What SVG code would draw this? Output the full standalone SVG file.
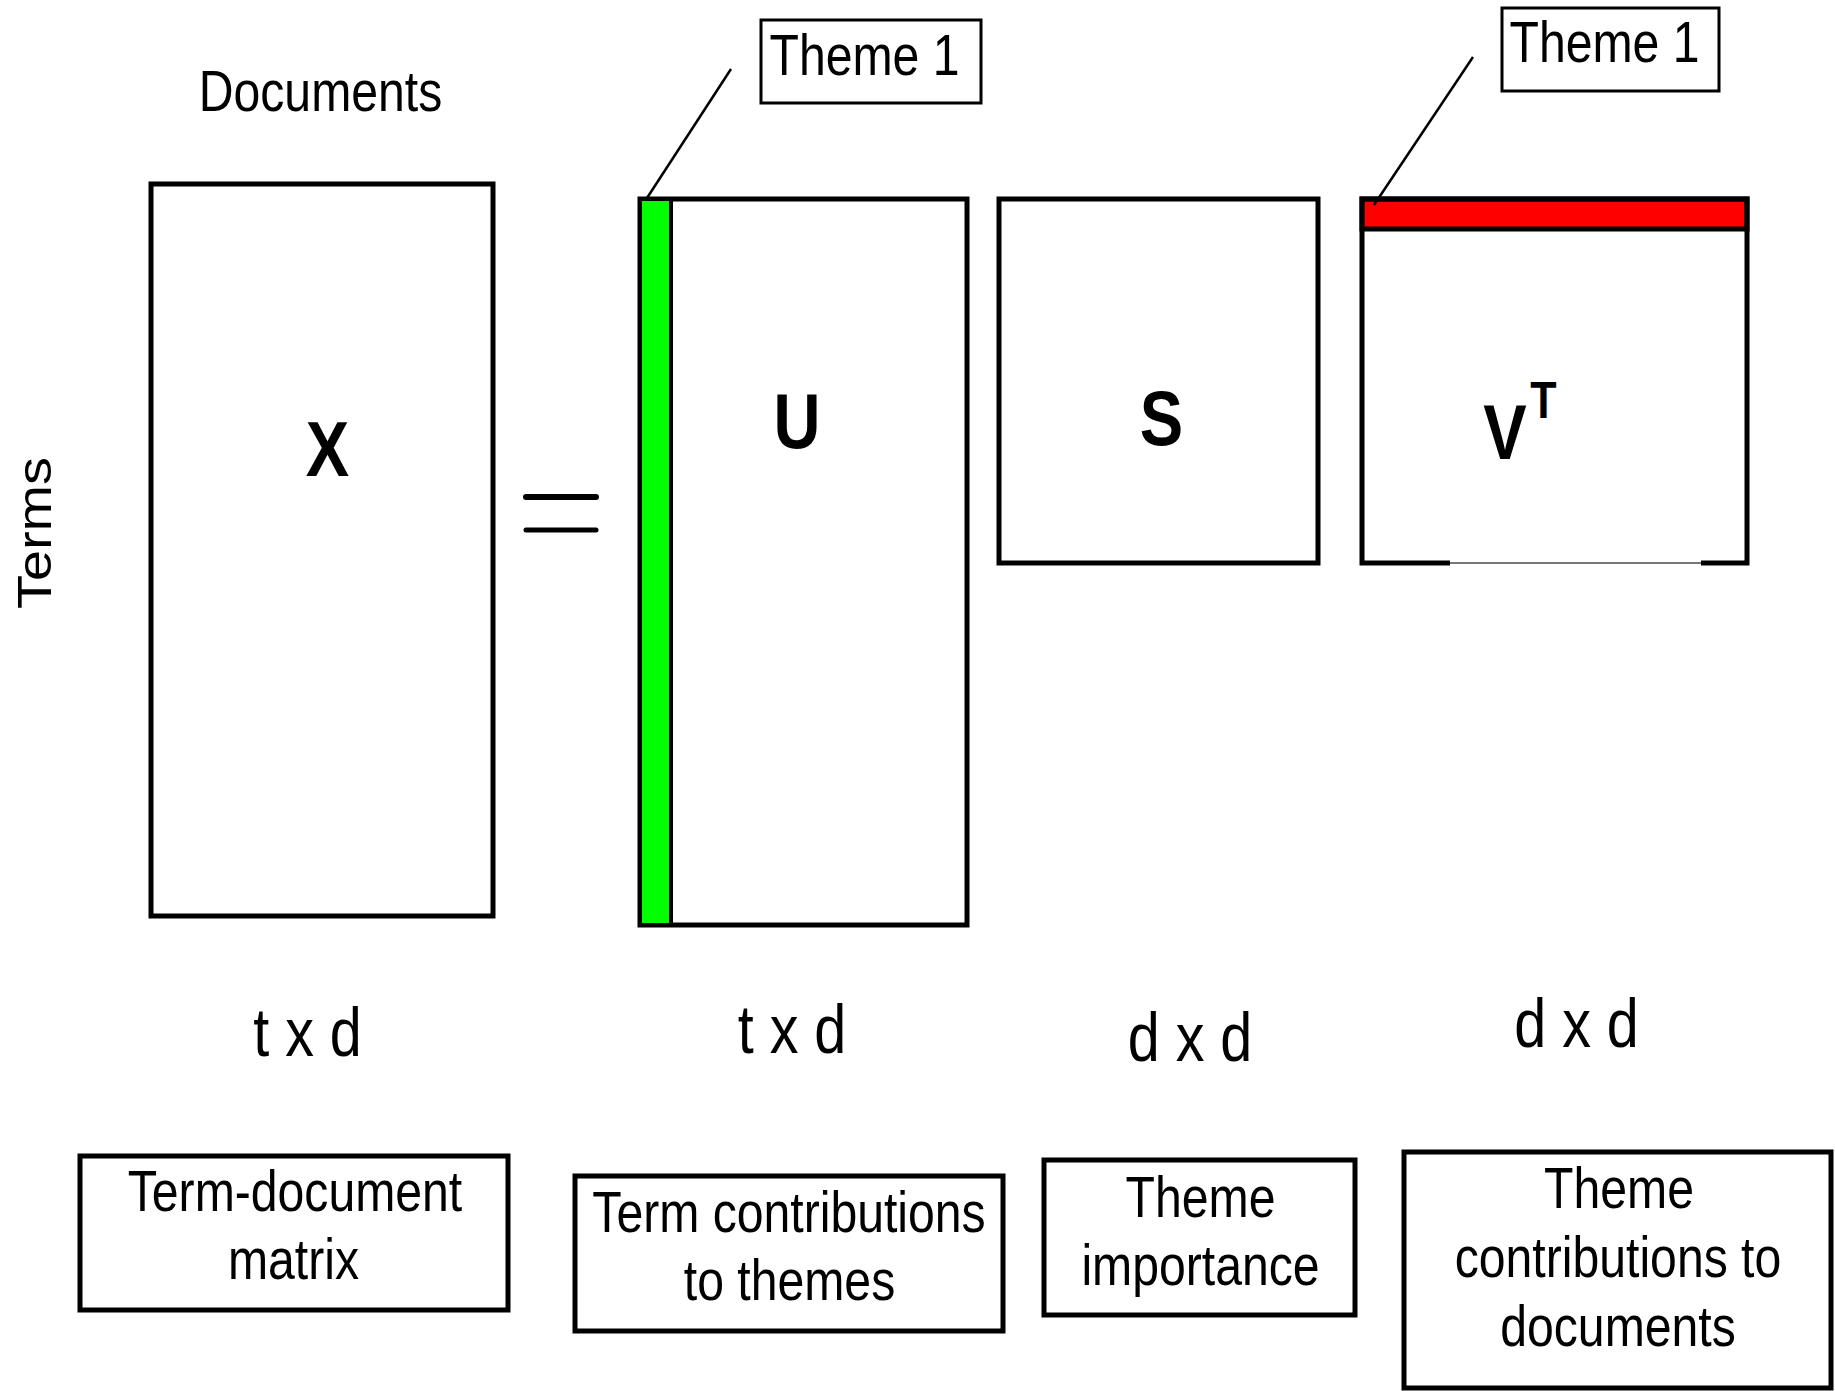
<svg xmlns="http://www.w3.org/2000/svg" width="1835" height="1391" viewBox="0 0 1835 1391">
<style>
.box{fill:#fff;stroke:#000;stroke-width:5}
.thin{fill:#fff;stroke:#000;stroke-width:3}
.t{font-family:"Liberation Sans",Arial,sans-serif;font-size:57px;fill:#000;text-anchor:middle}
.big{font-family:"Liberation Sans",Arial,sans-serif;font-size:68px;fill:#000;text-anchor:middle}
.m{font-family:"Liberation Sans",Arial,sans-serif;font-size:77px;font-weight:bold;fill:#000;text-anchor:middle}
.lead{stroke:#000;stroke-width:2.5;fill:none}
</style>
<rect width="1835" height="1391" fill="#fff"/>
<text class="t" transform="translate(320.5,111) scale(0.845,1)">Documents</text>
<text class="t" transform="translate(51,533) rotate(-90) scale(0.98,0.845)">Terms</text>
<g id="X">
<rect class="box" x="151" y="184" width="342" height="732"/>
<text class="m" transform="translate(327.5,476) scale(0.845,1)">X</text>
<text class="big" transform="translate(307.5,1056) scale(0.845,1)">t x d</text>
</g>
<g id="equals">
<line x1="526" y1="497" x2="596" y2="497" stroke="#000" stroke-width="6" stroke-linecap="round"/>
<line x1="526" y1="530" x2="596" y2="530" stroke="#000" stroke-width="5" stroke-linecap="round"/>
</g>
<g id="U">
<rect class="box" x="640" y="199" width="327" height="726"/>
<rect x="640" y="199" width="31" height="726" fill="#00ff00" stroke="#000" stroke-width="4"/>
<text class="m" transform="translate(797,448) scale(0.845,1)">U</text>
<text class="big" transform="translate(792,1053) scale(0.845,1)">t x d</text>
</g>
<g id="S">
<rect class="box" x="999" y="199" width="319" height="364"/>
<text class="m" transform="translate(1161.5,445) scale(0.845,1)">S</text>
<text class="big" transform="translate(1190,1061) scale(0.845,1)">d x d</text>
</g>
<g id="VT">
<rect x="1362" y="199" width="385" height="364" fill="#fff"/>
<rect x="1362" y="199" width="385" height="30" fill="#ff0000" stroke="#000" stroke-width="5"/>
<path d="M1450,563 H1362 V199 H1747 V563 H1701" fill="none" stroke="#000" stroke-width="5"/>
<line x1="1450" y1="563" x2="1701" y2="563" stroke="#777" stroke-width="2"/>
<text class="m" transform="translate(1505,459) scale(0.845,1)">V</text>
<text class="m" style="font-size:51px" transform="translate(1543.5,418) scale(0.845,1)">T</text>
<text class="big" transform="translate(1576.5,1047) scale(0.845,1)">d x d</text>
</g>
<g id="theme1-U">
<rect class="thin" x="761" y="20" width="220" height="83"/>
<text class="t" transform="translate(864.5,75) scale(0.845,1)">Theme 1</text>
</g>
<g id="theme1-VT">
<rect class="thin" x="1502" y="8" width="217" height="83"/>
<text class="t" transform="translate(1604.5,62) scale(0.845,1)">Theme 1</text>
</g>
<g id="connectors">
<line class="lead" x1="731" y1="69" x2="647" y2="198"/>
<line class="lead" x1="1473" y1="57" x2="1374" y2="205"/>
</g>
<g id="label-X">
<rect class="box" x="80" y="1156" width="428" height="154"/>
<text class="t" transform="translate(295,1211) scale(0.845,1)">Term-document</text>
<text class="t" transform="translate(293.5,1279) scale(0.845,1)">matrix</text>
</g>
<g id="label-U">
<rect class="box" x="575" y="1176" width="428" height="155"/>
<text class="t" transform="translate(789,1232) scale(0.845,1)">Term contributions</text>
<text class="t" transform="translate(789.5,1300) scale(0.845,1)">to themes</text>
</g>
<g id="label-S">
<rect class="box" x="1044" y="1160" width="311" height="155"/>
<text class="t" transform="translate(1200.5,1217) scale(0.845,1)">Theme</text>
<text class="t" transform="translate(1200.5,1285) scale(0.845,1)">importance</text>
</g>
<g id="label-VT">
<rect class="box" x="1404" y="1152" width="427" height="236"/>
<text class="t" transform="translate(1619,1208) scale(0.845,1)">Theme</text>
<text class="t" transform="translate(1618,1277) scale(0.845,1)">contributions to</text>
<text class="t" transform="translate(1618,1346) scale(0.845,1)">documents</text>
</g>
</svg>
